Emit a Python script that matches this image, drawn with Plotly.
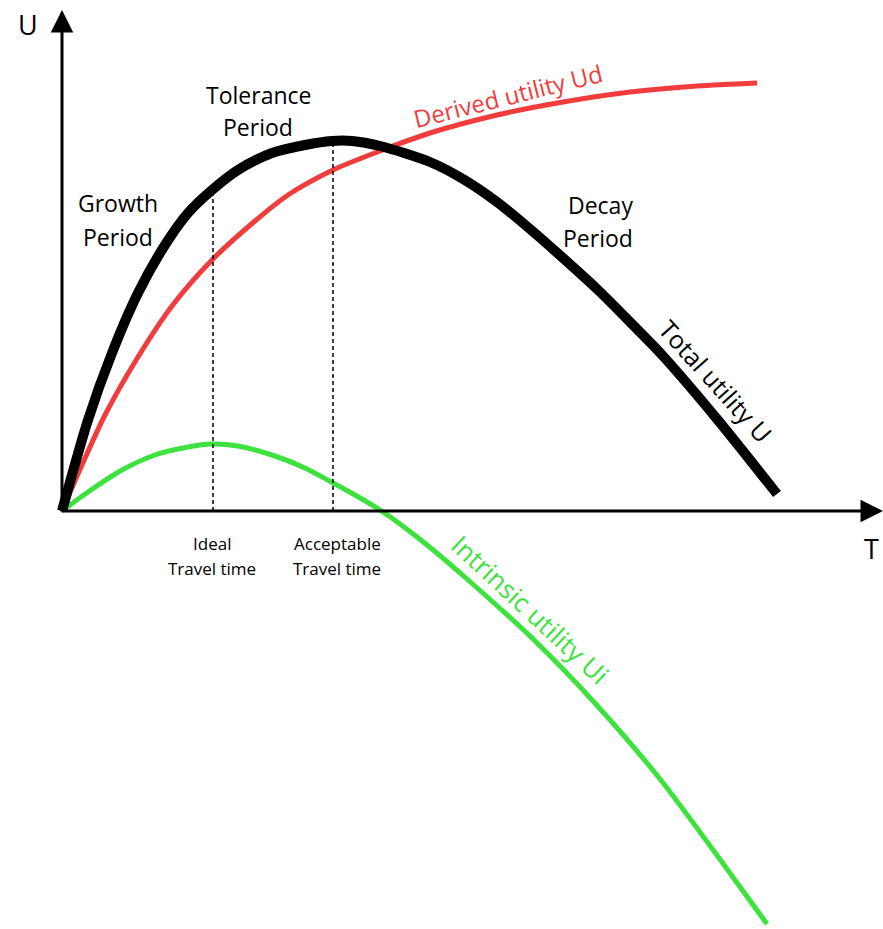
import plotly.graph_objects as go

# Total utility U (black)
total_T = [0, 26, 50, 76, 103, 126, 150, 176, 210, 243, 270, 290, 318, 368, 401, 435, 468, 501, 535, 568, 601, 655, 715]
total_U = [0, 91, 158, 218, 266, 298, 321, 341, 358, 366, 370, 370, 365, 349, 332, 309, 282, 253, 222, 189, 155, 92, 17]

# Derived utility Ud (red)
derived_T = [0, 20, 43, 76, 110, 150, 193, 226, 271, 318, 368, 435, 501, 568, 635, 695]
derived_U = [0, 46, 96, 154, 205, 251, 290, 316, 341, 360, 378, 396, 409, 419, 425, 428]

# Intrinsic utility Ui (green)
intrinsic_T = [0, 26, 60, 93, 126, 150, 176, 210, 243, 271, 293, 318, 338, 370, 405, 471, 531, 598, 665, 705]
intrinsic_U = [0, 19, 41, 56, 64, 67, 65, 56, 43, 28, 16, 1, -13, -38, -68, -128, -190, -268, -358, -413]

# Reference travel times and heights of the dashed guides
guide_T = [151, 271]
guide_U = [321, 369]
guide_labels = [["Ideal", "Travel time"], ["Acceptable", "Travel time"]]

FONT = "Open Sans"

fig = go.Figure()
fig.add_trace(go.Scatter(x=derived_T, y=derived_U, mode="lines", line=dict(color="#f03c3c", width=5, shape="spline", smoothing=0.8), hoverinfo="skip"))
fig.add_trace(go.Scatter(x=intrinsic_T, y=intrinsic_U, mode="lines", line=dict(color="#3ee23e", width=5, shape="spline", smoothing=0.8), hoverinfo="skip"))
fig.add_trace(go.Scatter(x=total_T, y=total_U, mode="lines", line=dict(color="black", width=10, shape="spline", smoothing=0.8), hoverinfo="skip"))

for t, u in zip(guide_T, guide_U):
    fig.add_trace(go.Scatter(x=[t, t], y=[0, u], mode="lines", line=dict(color="black", width=1.5, dash="4px,3px"), hoverinfo="skip"))

annotations = []
# axes with arrowheads
annotations.append(dict(x=0, y=501, ax=0, ay=-2, xref="x", yref="y", axref="x", ayref="y", showarrow=True, arrowhead=2, arrowsize=1.5, arrowwidth=3, arrowcolor="black", text=""))
annotations.append(dict(x=821, y=0, ax=-2, ay=0, xref="x", yref="y", axref="x", ayref="y", showarrow=True, arrowhead=2, arrowsize=1.5, arrowwidth=3, arrowcolor="black", text=""))

def txt(x, y, s, size, color="black", angle=0):
    annotations.append(dict(x=x, y=y, text=s, showarrow=False, xref="x", yref="y", textangle=angle,
                            font=dict(family=FONT, size=size, color=color), xanchor="center", yanchor="middle"))

txt(-34, 487, "U", 27)
txt(809, -37, "T", 27)
txt(196, 416, "Tolerance", 23)
txt(196, 384, "Period", 23)
txt(56, 308, "Growth", 23)
txt(56, 274, "Period", 23)
txt(538, 306, "Decay", 23)
txt(536, 273, "Period", 23)
for t, lab in zip(guide_T, guide_labels):
    cx = t - 1 if lab[0] == "Ideal" else t + 4
    txt(cx, -32, lab[0], 17)
    txt(cx, -57, lab[1], 17)
txt(446, 416, "Derived utility Ud", 24, "#f03c3c", -14)
txt(654, 130, "Total utility U", 25, "black", 48)
txt(468, -98, "Intrinsic utility Ui", 26, "#3ee23e", 43)

fig.update_layout(
    width=883, height=929,
    margin=dict(l=0, r=0, t=0, b=0),
    paper_bgcolor="white", plot_bgcolor="white",
    showlegend=False,
    xaxis=dict(range=[-62, 821], visible=False, fixedrange=True),
    yaxis=dict(range=[-418, 511], visible=False, fixedrange=True),
    annotations=annotations,
)
fig.write_html("out.html",
               config={"displayModeBar": False},
               post_script="document.body.style.margin='0';document.body.style.overflow='hidden';")
